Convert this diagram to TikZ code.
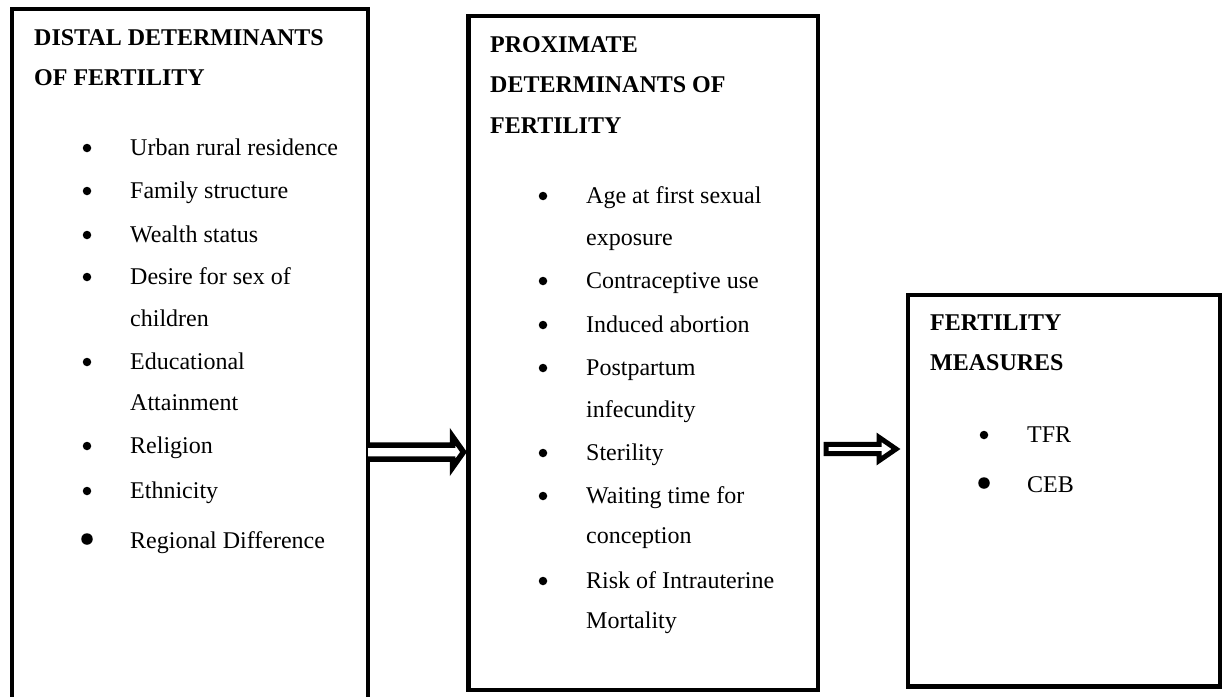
\documentclass[tikz,border=0pt]{standalone}
\usepackage{fontspec}
\setmainfont{Liberation Serif}
\usetikzlibrary{calc,positioning}
\tikzset{
  frame/.style={draw, rectangle, line width=4.5pt, anchor=north west, inner sep=0pt, outer sep=0pt},
  headtxt/.style={anchor=base west, inner sep=0pt, font=\fontsize{24}{30}\selectfont\bfseries},
  itemtxt/.style={anchor=base west, inner sep=0pt, font=\fontsize{24}{30}\selectfont},
  dot/.style={circle, fill, inner sep=0pt, minimum size=8.5pt},
  bigdot/.style={circle, fill, inner sep=0pt, minimum size=11.5pt},
  hollow/.style={draw, fill=white, line width=5pt}
}

\begin{document}
\begin{tikzpicture}[x=1pt, y=-1pt]
\useasboundingbox (0,0) rectangle (1223,696);
\clip (0,0) rectangle (1223,696);

% Boxes
\node[frame, minimum width=356pt, minimum height=720pt] (distal) at (12,9) {};
\node[frame, minimum width=349.5pt, minimum height=674pt] (prox) at (468.5,16) {};
\node[frame, minimum width=312pt, minimum height=391.5pt] (meas) at (908,295) {};

% Headings
\node[headtxt] (dh1) at (34,45) {DISTAL DETERMINANTS};
\node[headtxt] (dh2) at (34,85) {OF FERTILITY};
\node[headtxt] (ph1) at (490,52) {PROXIMATE};
\node[headtxt] (ph2) at (490,92) {DETERMINANTS OF};
\node[headtxt] (ph3) at (490,133) {FERTILITY};
\node[headtxt] (mh1) at (930,330) {FERTILITY};
\node[headtxt] (mh2) at (930,370) {MEASURES};

% Distal list
\foreach \y/\t [count=\i] in {
  155/Urban rural residence,
  198/Family structure,
  242/Wealth status,
  284/Desire for sex of,
  326/children,
  369/Educational,
  410/Attainment,
  453/Religion,
  498/Ethnicity,
  548/Regional Difference}
{
  \node[itemtxt] (dl\i) at (130,\y) {\t};
}
\foreach \y [count=\i] in {155,198,242,284,369,453,498}
  \node[dot] (db\i) at (87,\y-7) {};
\node[bigdot] (db8) at (87,548-9) {};

% Proximate list
\foreach \y/\t [count=\i] in {
  203/Age at first sexual,
  245/exposure,
  288/Contraceptive use,
  332/Induced abortion,
  375/Postpartum,
  417/infecundity,
  460/Sterility,
  503/Waiting time for,
  543/conception,
  588/Risk of Intrauterine,
  628/Mortality}
{
  \node[itemtxt] (pl\i) at (586,\y) {\t};
}
\foreach \y [count=\i] in {203,288,332,375,460,503,588}
  \node[dot] (pb\i) at (543,\y-7) {};

% Measures list
\node[itemtxt] (ml1) at (1027,442) {TFR};
\node[itemtxt] (ml2) at (1027,492) {CEB};
\node[dot] (mb1) at (984,442-7) {};
\node[bigdot] (mb2) at (984,492-9) {};

% Hollow arrows between boxes
\coordinate (a1s) at (distal.east |- 0,452);
\coordinate (a1e) at ($(prox.west |- 0,452)+(-5,0)$);
\draw[hollow, line width=5.5pt] ($(a1s)+(0,-7)$) -- ($(a1e)+(-11,-7)$) -- ($(a1e)+(-11,-15.5)$) -- (a1e)
  -- ($(a1e)+(-11,15.5)$) -- ($(a1e)+(-11,7)$) -- ($(a1s)+(0,7)$);

\coordinate (a2s) at ($(prox.east |- 0,449)+(8,0)$);
\coordinate (a2e) at ($(meas.west |- 0,449)+(-12,0)$);
\draw[hollow] ($(a2s)+(0,-4.6)$) -- ($(a2e)+(-17,-4.6)$) -- ($(a2e)+(-17,-11.7)$) -- (a2e)
  -- ($(a2e)+(-17,11.7)$) -- ($(a2e)+(-17,4.6)$) -- ($(a2s)+(0,4.6)$) -- cycle;

\end{tikzpicture}
\end{document}
